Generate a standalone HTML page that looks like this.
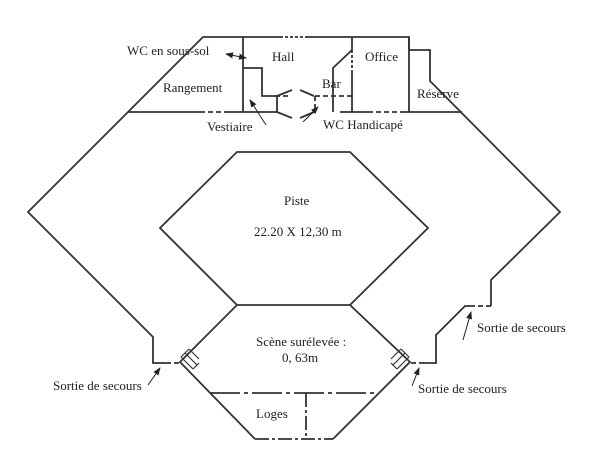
<!DOCTYPE html>
<html><head><style>body{margin:0;background:#fff}svg{display:block}text{font-family:"Liberation Serif",serif;font-size:13px;fill:#222}</style></head><body>
<svg width="600" height="469" viewBox="0 0 600 469" xmlns="http://www.w3.org/2000/svg">
<defs><marker id="a" markerWidth="8" markerHeight="8" refX="7" refY="4" orient="auto-start-reverse"><path d="M0,1 L8,4 L0,7 z" fill="#222"/></marker></defs>
<g fill="none" stroke="#333" stroke-width="1.8">
<path d="M280,37 L203,37 L28,212 L153,337 L153,363 L166,363"/>
<path d="M166,363 L180,363" stroke-dasharray="5,3"/>
<path d="M305,37 L409,37 L409,50 L430,50 L430,81 L560,212 L491,280 L491,306"/>
<path d="M491,306 L472,306" stroke-dasharray="5,3"/>
<path d="M472,306 L465,306 L436,335 L436,363 L424,363"/>
<path d="M424,363 L408,363" stroke-dasharray="5,3"/>
<path d="M280,37 L305,37" stroke-dasharray="3,2"/>
<path d="M128,112 L200,112 M225,112 L277,112 M340,112 L368,112 M400,112 L462,112"/>
<path d="M200,112 L225,112 M368,112 L400,112" stroke-dasharray="5,3"/>
<path d="M243,37 L243,112 M352,37 L352,50 M352,70 L352,112 M409,37 L409,112"/>
<path d="M352,50 L352,70" stroke-dasharray="3,2"/>
<path d="M243,68 L262,68 L262,96 L275,96 L277,96 L277,112"/>
<path d="M275,96 L290,96" stroke-dasharray="5,3"/>
<path d="M277,96 L292,90 M277,112 L292,118 M300,90 L314,96 M300,118 L314,112"/>
<path d="M352,50 L333,68 L333,112"/>
<path d="M315,96 L352,96 M315,96 L315,112" stroke-dasharray="5,3"/>
<path d="M237,152 L350,152 L428,228 L350,305 L237,305 L160,228 Z"/>
<path d="M237,305 L180,362 L255,439 M350,305 L410,362 L333,439"/>
<path d="M210,393 L378,393" stroke-dasharray="30,4,4,4"/>
<path d="M306,393 L306,439 M255,439 L333,439" stroke-dasharray="14,3,3,3"/>
</g>
<g fill="none" stroke="#333" stroke-width="1.2">
<path d="M181,357 L193,369 M185,353 L197,365 M189,349 L199,359 M181,357 L189,349 M193,369 L199,363"/>
<path d="M409,357 L397,369 M405,353 L393,365 M401,349 L391,359 M409,357 L401,349 M397,369 L391,363"/>
</g>
<g stroke="#222" stroke-width="1" fill="none">
<path d="M226,54 L246,58" marker-start="url(#a)" marker-end="url(#a)"/>
<path d="M266,125 L250,100" marker-end="url(#a)"/>
<path d="M303,122 L318,107" marker-end="url(#a)"/>
<path d="M148,385 L160,368" marker-end="url(#a)"/>
<path d="M412,386 L419,368" marker-end="url(#a)"/>
<path d="M463,340 L471,312" marker-end="url(#a)"/>
</g>
<text x="127" y="55">WC en sous-sol</text>
<text x="272" y="61">Hall</text>
<text x="365" y="61">Office</text>
<text x="163" y="92">Rangement</text>
<text x="322" y="88">Bar</text>
<text x="417" y="98">Réserve</text>
<text x="207" y="131">Vestiaire</text>
<text x="323" y="129">WC Handicapé</text>
<text x="284" y="205">Piste</text>
<text x="254" y="236">22.20 X 12,30 m</text>
<text x="256" y="346">Scène surélevée :</text>
<text x="282" y="362">0, 63m</text>
<text x="256" y="418">Loges</text>
<text x="53" y="390">Sortie de secours</text>
<text x="477" y="332">Sortie de secours</text>
<text x="418" y="393">Sortie de secours</text>
</svg>
</body></html>
